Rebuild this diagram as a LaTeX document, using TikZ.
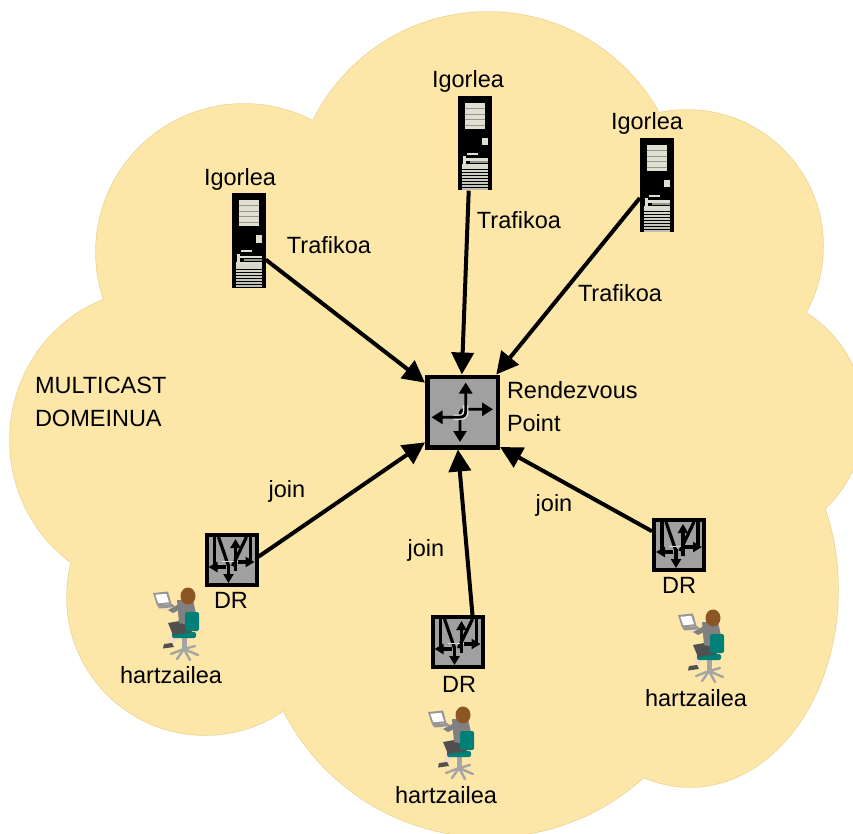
\documentclass[tikz,border=0pt]{standalone}
\usepackage{fontspec}
\setmainfont{Liberation Sans}
\usetikzlibrary{arrows.meta}

\definecolor{cloudfill}{RGB}{252,230,168}
\definecolor{cloudline}{RGB}{236,212,150}
\definecolor{routergray}{RGB}{160,160,160}
\definecolor{bayfill}{RGB}{224,224,210}
\definecolor{baydark}{RGB}{150,150,140}
\definecolor{chairteal}{RGB}{0,128,118}
\definecolor{chairgray}{RGB}{165,165,165}
\definecolor{hairbrown}{RGB}{140,86,36}
\definecolor{suit}{RGB}{128,128,128}
\definecolor{skirt}{RGB}{80,80,80}
\definecolor{skin}{RGB}{246,218,196}
\definecolor{laptopgray}{RGB}{150,150,150}

\tikzset{
  % tower server front panel
  serverface/.pic={
    \fill[bayfill] (-10,-40) rectangle (10,-14);
    \foreach \yy in {-34.5,-29,-23.5,-18}
      \draw[baydark, line width=1pt] (-10,\yy) -- (10,\yy);
    \fill[bayfill] (7,-5) rectangle (13,2);
    \fill[bayfill] (-8,9.5) rectangle (3,11.5);
    \fill[bayfill] (-12,13) rectangle (-9,22);
    \fill[bayfill] (-12,15) rectangle (13,17.5);
    \fill[baydark] (-5,18) rectangle (13,20);
    \foreach \i in {0,...,8}{
      \pgfmathsetmacro\shd{95-\i*5}
      \fill[bayfill!\shd!baydark] (-13,21+\i*2.9) rectangle (13,23.1+\i*2.9);
    }
  },
  % rendezvous point router symbol
  rpface/.pic={
    \draw[line width=2.8pt, {Triangle[length=11pt,width=13pt]}-{Triangle[length=11pt,width=13pt]}]
      (-2.5,30) -- (-2.5,3) .. controls (-2.5,-1.5) and (-0.5,-2.7) .. (4,-2.7) -- (30.5,-2.7);
    \draw[white!88!black, line width=5.5pt]
      (-9,5.3) -- (-4,5.3) .. controls (1.5,5.3) and (3.2,3.5) .. (3.2,-1) -- (3.2,-7);
    \draw[line width=2.8pt, {Triangle[length=11pt,width=13pt]}-{Triangle[length=11pt,width=13pt]}]
      (-31,5.3) -- (-4,5.3) .. controls (1.5,5.3) and (3.2,3.5) .. (3.2,-1) -- (3.2,-29.5);
  },
  % designated router symbol
  drface/.pic={
    \begin{scope}[line width=3.2pt]
      \draw (-17,-23) -- (-17,8);
      \draw (19,-23) -- (19,3);
      \draw (-13,-23) -- (-3,6);
      \draw (15,-23) -- (1,6);
      \draw[white!85!black, line width=1pt] (-10,1) -- (12,1);
      \draw[-{Triangle[length=9pt,width=10pt]}] (-3,4) -- (-3,23);
      \draw[-{Triangle[length=9pt,width=10pt]}] (-6,7) -- (-23,7);
      \draw[-{Triangle[length=9pt,width=10pt]}] (6,2) -- (23,2);
      \draw[-{Triangle[length=9pt,width=10pt]}] (4,11) -- (4,-21);
    \end{scope}
  },
  % seated user with laptop
  userpic/.pic={
    \draw[chairgray, line width=2.4pt, line cap=round]
      (32,61) -- (19,66) (32,61) -- (25,71) (32,61) -- (38,72)
      (32,61) -- (46,67) (32,61) -- (43,58);
    \fill[chairgray] (30,48) rectangle (34.5,61);
    \fill[skin] (19,44) -- (27,46) -- (21,57) -- (16,57) -- cycle;
    \fill[skirt] (12,56) -- (20,55) -- (22,59) -- (11,60.5) -- cycle;
    \fill[chairteal, rounded corners=2pt] (20,44) rectangle (44,50);
    \fill[skirt] (16,35) -- (33,32) -- (40,44) -- (21,47) -- cycle;
    \fill[suit] (25,12) -- (41,12) -- (45,30) -- (37,37) -- (27,35) -- cycle;
    \fill[chairteal, rounded corners=2pt] (33,24) rectangle (47,43);
    \fill[suit] (27,16) -- (31,20) -- (21,25) -- (16,22) -- cycle;
    \fill[skin] (14,21) circle[radius=2pt];
    \fill[hairbrown] (36,8) ellipse[x radius=7.5pt, y radius=8.5pt];
    \fill[laptopgray] (1,5) -- (16,3.5) -- (19.5,16) -- (5,17.5) -- cycle;
    \fill[white] (3.3,6.8) -- (14.3,5.8) -- (17,14.3) -- (6.3,15.2) -- cycle;
    \fill[laptopgray] (5,17.5) -- (20,16) -- (24,19) -- (7.5,20.5) -- cycle;
  }
}

\begin{document}
\begin{tikzpicture}[x=1pt, y=-1pt,
  font=\fontsize{23.5}{28}\selectfont,
  lbl/.style={inner sep=0pt, outer sep=0pt, text=black},
  flow/.style={line width=4pt, -{Triangle[length=22pt,width=22pt]}},
  serverbox/.style={rectangle, fill=black, minimum width=34pt, minimum height=94pt, inner sep=0pt},
  rpbox/.style={rectangle, draw=black, line width=4.5pt, fill=routergray, minimum size=70.5pt, inner sep=0pt},
  drbox/.style={rectangle, draw=black, line width=4pt, fill=routergray, minimum size=50pt, inner sep=0pt}]

\fill[white] (0,0) rectangle (853,834);
\useasboundingbox (0,0) rectangle (853,834);

% the multicast domain cloud
\begin{scope}
  \clip (0,0) rectangle (853,834);
  \def\cloudparts{
    (488,207) circle[radius=195pt]
    (244,252) circle[radius=148pt]
    (687,246) circle[radius=136pt]
    (740,418) circle[radius=124pt]
    (155,440) ellipse[x radius=145pt, y radius=150pt]
    (205,597) circle[radius=138pt]
    (489,607) circle[radius=230pt]
    (690,590) ellipse[x radius=148pt, y radius=197pt]}
  \draw[cloudline, line width=1.5pt] \cloudparts;
  \fill[cloudfill] \cloudparts;
  \fill[cloudfill] (488,207) -- (687,246) -- (740,418) -- (690,590)
    -- (489,607) -- (205,597) -- (155,440) -- (244,252) -- cycle;
\end{scope}

% devices
\node[serverbox] (s1) at (248.5,240.5) {};
\node[serverbox] (s2) at (474.5,143.5) {};
\node[serverbox] (s3) at (657,185.5) {};
\pic at (s1) {serverface};
\pic at (s2) {serverface};
\pic at (s3) {serverface};

\node[rpbox] (rp) at (462.5,412) {};
\pic at (rp) {rpface};

\node[drbox] (dr1) at (231.5,560) {};
\node[drbox] (dr2) at (457.5,642) {};
\node[drbox] (dr3) at (679,545) {};
\pic at (dr1) {drface};
\pic at (dr2) {drface};
\pic at (dr3) {drface};

\pic at (152,588) {userpic};
\pic at (427,707) {userpic};
\pic at (677,610) {userpic};

% connectors
\draw[flow] (s1.-48) -- (rp.142.6);
\draw[flow] (s2.-97.8) -- (rp.91.4);
\draw[flow] (s3.216.9) -- (rp.48);
\draw[flow] (dr1.7.7) -- (rp.219.4);
\draw[flow] (dr2.61.6) -- (rp.263.4);
\draw[flow] (dr3.153.4) -- (rp.317.4);

% labels
\node[lbl, anchor=base] (ig1) at (240,186) {Igorlea};
\node[lbl, anchor=base] (ig2) at (468,88) {Igorlea};
\node[lbl, anchor=base] (ig3) at (647,130) {Igorlea};
\node[lbl, anchor=base] (tr1) at (329,253) {Trafikoa};
\node[lbl, anchor=base] (tr2) at (519,229) {Trafikoa};
\node[lbl, anchor=base] (tr3) at (620,301) {Trafikoa};
\node[lbl, anchor=base west] (rv1) at (507,398) {Rendezvous};
\node[lbl, anchor=base west] (rv2) at (507,431) {Point};
\node[lbl, anchor=base west] (md1) at (35,393) {MULTICAST};
\node[lbl, anchor=base west] (md2) at (35,426) {DOMEINUA};
\node[lbl, anchor=base] (jn1) at (287,497) {join};
\node[lbl, anchor=base] (jn2) at (426,556) {join};
\node[lbl, anchor=base] (jn3) at (554,511) {join};
\node[lbl, anchor=base] (drl1) at (231,608) {DR};
\node[lbl, anchor=base] (drl2) at (459,692) {DR};
\node[lbl, anchor=base] (drl3) at (679,593) {DR};
\node[lbl, anchor=base] (hz1) at (171,683) {hartzailea};
\node[lbl, anchor=base] (hz2) at (446,803) {hartzailea};
\node[lbl, anchor=base] (hz3) at (696,706) {hartzailea};
\end{tikzpicture}
\end{document}
